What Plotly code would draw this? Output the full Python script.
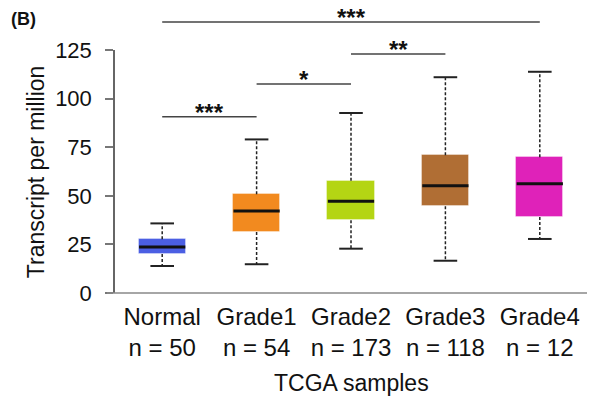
import plotly.graph_objects as go

categories = ["Normal", "Grade1", "Grade2", "Grade3", "Grade4"]
sample_n = [50, 54, 173, 118, 12]
lower_whisker = [13.9, 14.8, 22.8, 16.6, 27.8]
q1 = [20.1, 31.4, 37.4, 44.6, 39.1]
median = [23.7, 42.2, 47.2, 55.2, 56.2]
q3 = [27.6, 50.8, 57.8, 70.8, 69.8]
upper_whisker = [35.8, 79.0, 92.6, 111.0, 113.8]
colors = ["#4B5FE3", "#F28A1F", "#B4D514", "#B06E34", "#DF22B9"]

# significance brackets: (from index, to index, level in data units, label)
brackets_from = [0, 1, 2, 0]
brackets_to = [1, 2, 3, 4]
brackets_level = [90.7, 107.5, 122.9, 139.4]
brackets_label = ["***", "*", "**", "***"]

YMAX = 125
FONT = "Liberation Sans, Arial, sans-serif"
pos = list(range(len(categories)))
box_w = 0.5
cap_w = 0.125
med_w = 0.245

fig = go.Figure()

# whiskers (dashed)
wx, wy = [], []
for i in pos:
    wx += [i, i, None, i, i, None]
    wy += [q3[i], upper_whisker[i], None, q1[i], lower_whisker[i], None]
fig.add_trace(go.Scatter(x=wx, y=wy, mode="lines",
                         line=dict(color="#222222", width=1.5, dash="3px,2px"),
                         hoverinfo="skip", showlegend=False))
# caps
cx, cy = [], []
for i in pos:
    cx += [i - cap_w, i + cap_w, None, i - cap_w, i + cap_w, None]
    cy += [upper_whisker[i], upper_whisker[i], None, lower_whisker[i], lower_whisker[i], None]
fig.add_trace(go.Scatter(x=cx, y=cy, mode="lines",
                         line=dict(color="#222222", width=2),
                         hoverinfo="skip", showlegend=False))
# boxes
fig.add_trace(go.Bar(x=pos, y=[q3[i] - q1[i] for i in pos], base=q1,
                     width=box_w,
                     marker=dict(color=colors, line=dict(width=1, color="rgba(255,255,255,0.35)")),
                     showlegend=False))
# medians
mx, my = [], []
for i in pos:
    mx += [i - med_w, i + med_w, None]
    my += [median[i], median[i], None]
fig.add_trace(go.Scatter(x=mx, y=my, mode="lines",
                         line=dict(color="#111111", width=3),
                         hoverinfo="skip", showlegend=False))

shapes = []
annotations = []
for a, b, lvl, lab in zip(brackets_from, brackets_to, brackets_level, brackets_label):
    shapes.append(dict(type="line", xref="x", yref="paper", x0=a, x1=b,
                       y0=lvl / YMAX, y1=lvl / YMAX,
                       line=dict(color="#444444", width=1.5)))
    annotations.append(dict(x=(a + b) / 2, xref="x", y=lvl / YMAX, yref="paper",
                            text="<b>" + lab + "</b>", showarrow=False,
                            yanchor="bottom", yshift=-11,
                            font=dict(family=FONT, size=24, color="#111111")))
# x axis baseline extending slightly left of y axis
shapes.append(dict(type="line", xref="paper", yref="paper", x0=-0.017, x1=1,
                   y0=0, y1=0, line=dict(color="#888888", width=1.5)))

annotations.append(dict(x=-0.225, xref="paper", y=1.175, yref="paper",
                        text="<b>(B)</b>", showarrow=False,
                        xanchor="left", yanchor="top",
                        font=dict(family=FONT, size=18, color="#111111")))
# axis titles
annotations.append(dict(x=0.5, xref="paper", y=-0.372, yref="paper",
                        text="TCGA samples", showarrow=False,
                        xanchor="center", yanchor="middle",
                        font=dict(family=FONT, size=23, color="#111111")))
annotations.append(dict(x=-0.168, xref="paper", y=0.5, yref="paper",
                        text="Transcript per million", showarrow=False,
                        textangle=-90, xanchor="center", yanchor="middle",
                        font=dict(family=FONT, size=23, color="#111111")))

ticktext = [f"{c}<br>n = {n}" for c, n in zip(categories, sample_n)]

# page body has an 8px margin, so the figure is offset by 8px
fig.update_layout(
    width=603, height=399,
    margin=dict(l=107, r=24, t=42, b=114, autoexpand=False),
    paper_bgcolor="white", plot_bgcolor="white",
    font=dict(family=FONT, size=22, color="#111111"),
    bargap=0,
    shapes=shapes,
    annotations=annotations,
    xaxis=dict(range=[-0.5, 4.5], tickmode="array", tickvals=pos, ticktext=ticktext,
               showline=False, showgrid=False, zeroline=False, ticks="",
               tickfont=dict(size=24), ticklabelstandoff=7, automargin=False),
    yaxis=dict(range=[0, YMAX], tickvals=[0, 25, 50, 75, 100, 125],
               showline=True, linecolor="#666666", linewidth=1.5,
               ticks="outside", ticklen=8, tickcolor="#777777", tickwidth=1.5,
               showgrid=False, zeroline=False, automargin=False,
               tickfont=dict(size=22), ticklabelstandoff=9),
)

fig.write_html("out.html")
